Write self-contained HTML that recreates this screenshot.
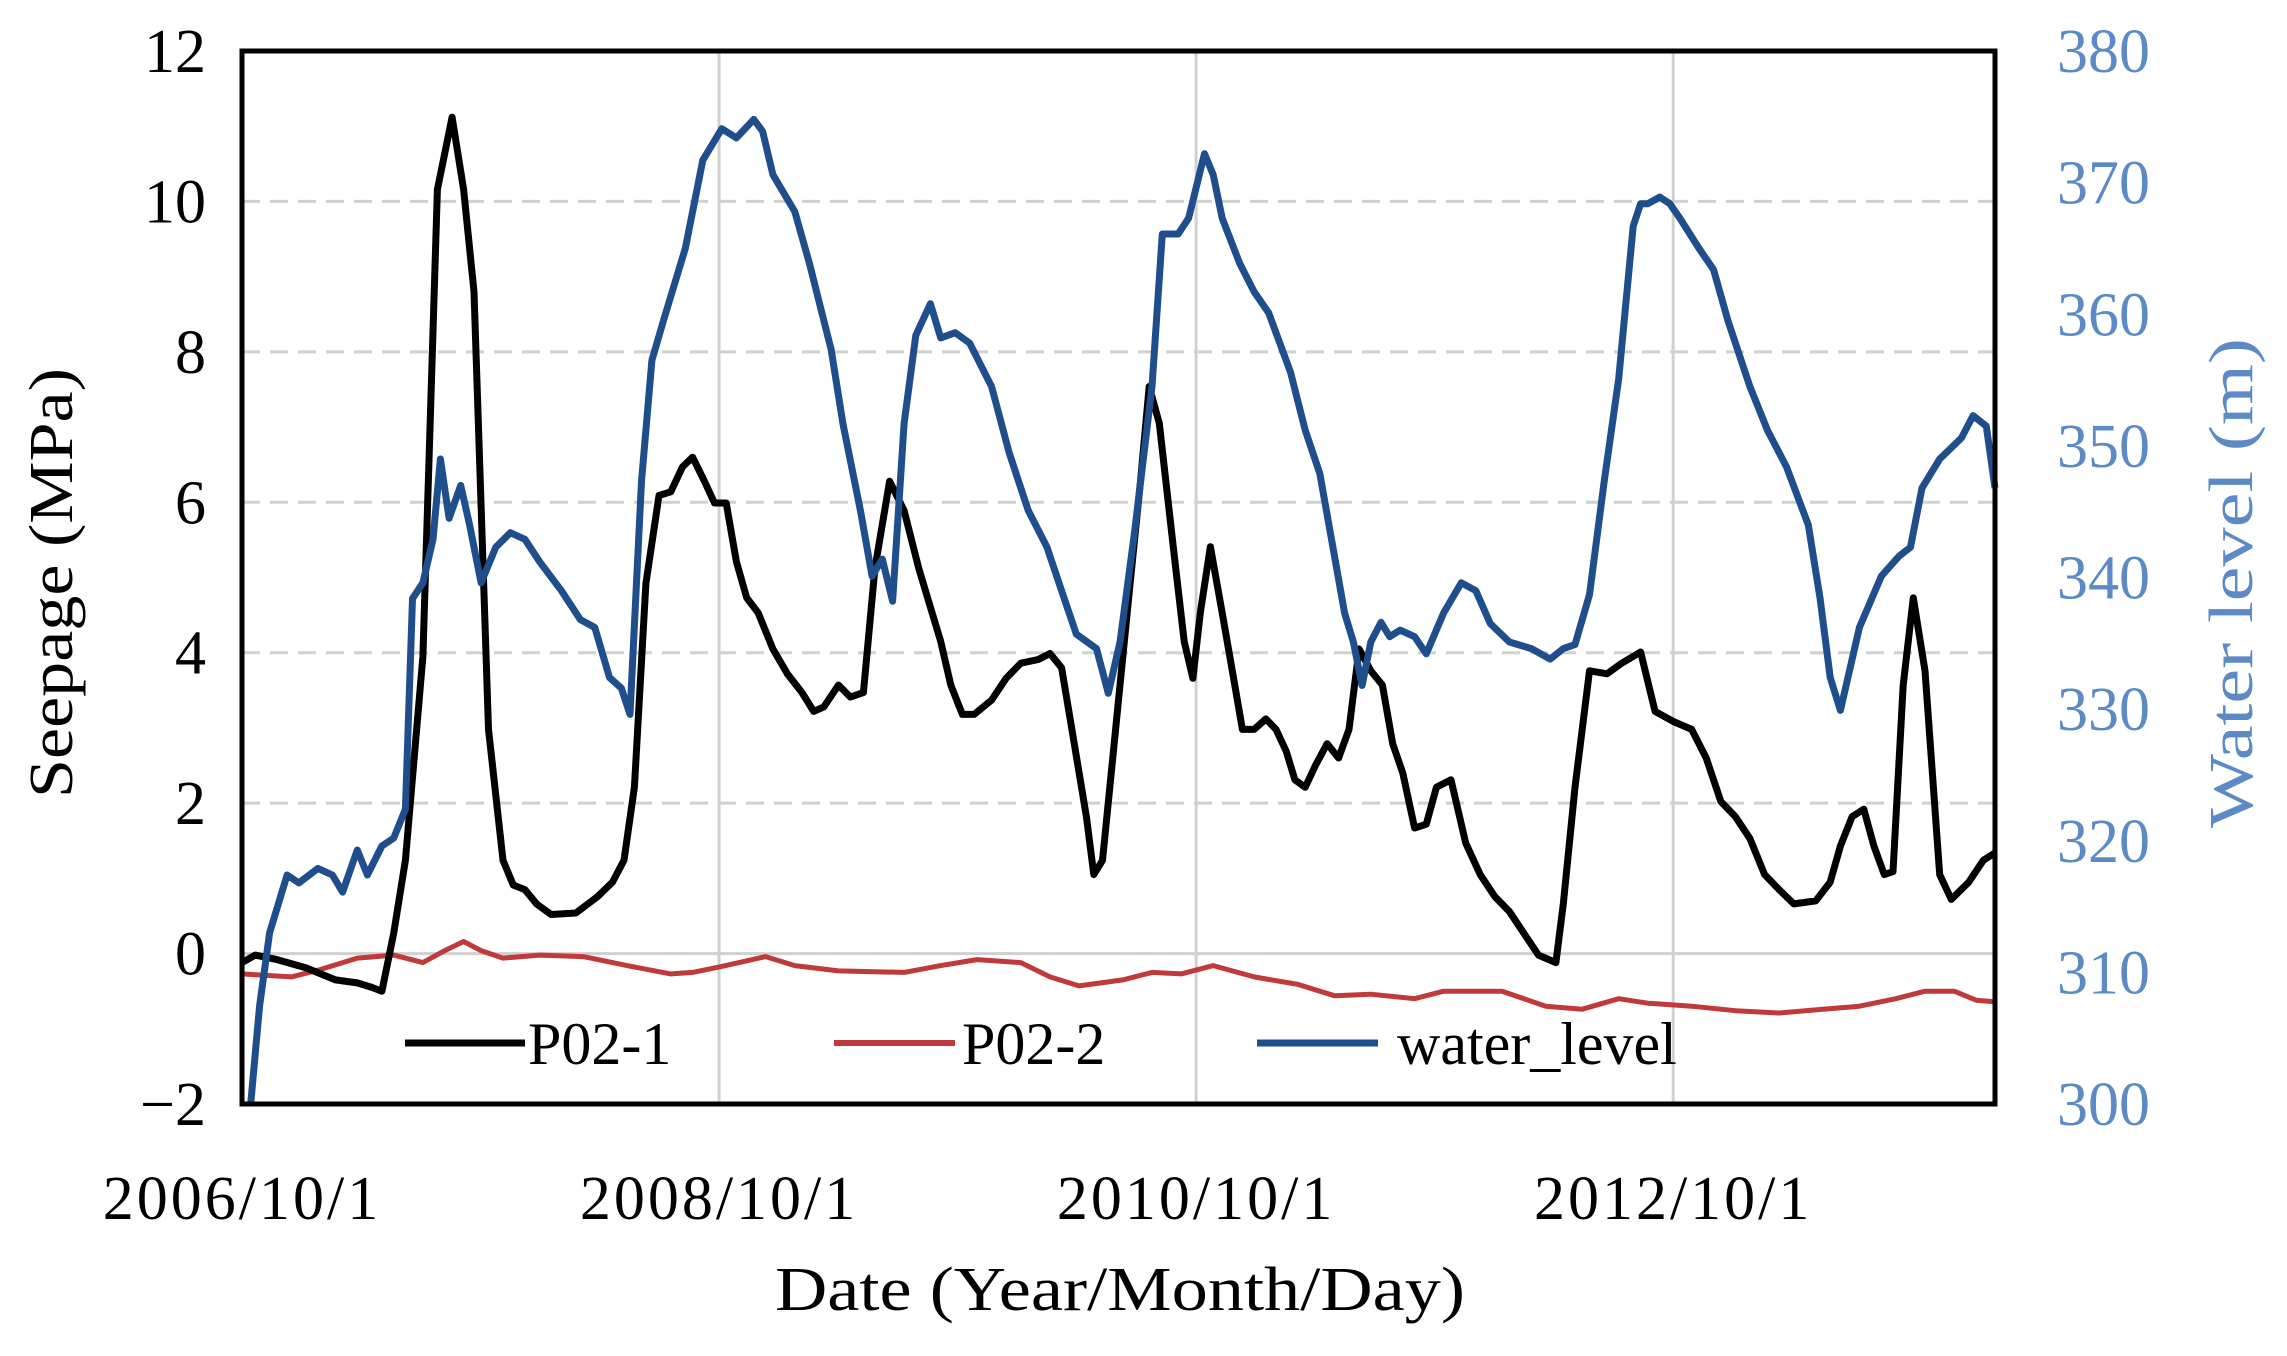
<!DOCTYPE html>
<html><head><meta charset="utf-8">
<style>
html,body{margin:0;padding:0;background:#fff;}
svg{display:block;}
text{font-family:"Liberation Serif",serif;}
</style></head>
<body>
<svg id="chart" width="2287" height="1356" viewBox="0 0 2287 1356" xmlns="http://www.w3.org/2000/svg">
<g id="grid"></g>
<g id="series"></g>
<rect x="242" y="51" width="1753" height="1053" fill="none" stroke="#000" stroke-width="5"/>
<g id="axes"></g>
<text transform="translate(72,583) rotate(-90)" text-anchor="middle" font-size="62" textLength="430" lengthAdjust="spacingAndGlyphs">Seepage (MPa)</text>
<text transform="translate(2252,583) rotate(-90)" text-anchor="middle" font-size="62" fill="#5b8ac6" textLength="490" lengthAdjust="spacingAndGlyphs">Water level (m)</text>
<text x="1120" y="1310" text-anchor="middle" font-size="62" textLength="690" lengthAdjust="spacingAndGlyphs">Date (Year/Month/Day)</text>
<g id="legend">
  <g>
    <line x1="405" y1="1043" x2="525" y2="1043" stroke="#000" stroke-width="7"/>
    <text x="528" y="1064" font-size="60">P02-1</text>
  </g>
  <g>
    <line x1="834" y1="1043" x2="955" y2="1043" stroke="#c0393b" stroke-width="6"/>
    <text x="962" y="1064" font-size="60">P02-2</text>
  </g>
  <g>
    <line x1="1257" y1="1043" x2="1378" y2="1043" stroke="#1f4e8c" stroke-width="7"/>
    <text x="1397" y="1064" font-size="60">water_level</text>
  </g>
</g>
</svg>
<script>
const xTickMonths = [0, 24, 48, 72];
const xTickLabels = ["2006/10/1", "2008/10/1", "2010/10/1", "2012/10/1"];
const yTicks = [-2, 0, 2, 4, 6, 8, 10, 12];
const y2Ticks = [300, 310, 320, 330, 340, 350, 360, 370, 380];

const p1Months = [0,0.66,1.76,3.23,4.70,5.80,6.53,7.04,7.63,8.22,9.10,9.83,10.57,11.15,11.67,12.40,13.13,13.65,14.23,14.82,15.55,16.80,17.90,18.64,19.22,19.74,20.32,20.98,21.57,22.16,22.67,23.26,23.77,24.36,24.87,25.39,25.97,26.71,27.44,28.17,28.76,29.27,30.01,30.60,31.26,31.84,32.58,33.31,34.05,35.15,35.66,36.24,36.83,37.71,38.44,39.18,40.06,40.65,41.23,41.75,42.48,42.85,43.29,43.95,44.68,45.20,45.64,46.15,46.89,47.40,47.84,48.21,48.72,49.31,49.82,50.33,50.92,51.51,52.02,52.53,52.97,53.49,54.00,54.59,55.17,55.69,56.20,56.79,57.37,57.89,58.40,58.99,59.58,60.09,60.82,61.56,62.29,63.02,63.76,64.49,65.22,66.10,66.47,67.06,67.79,68.67,69.41,70.36,71.09,72.05,72.93,73.66,74.40,75.13,75.86,76.60,77.33,78.07,79.17,79.90,80.41,81.00,81.59,82.10,82.62,83.06,83.57,84.08,84.67,85.41,85.99,86.87,87.60,88.19];
const p1Values = [-0.12,-0.02,-0.08,-0.19,-0.35,-0.39,-0.45,-0.5,0.27,1.24,3.95,10.16,11.12,10.16,8.8,2.98,1.24,0.91,0.85,0.66,0.52,0.54,0.76,0.95,1.24,2.21,4.92,6.09,6.14,6.47,6.6,6.28,5.99,5.99,5.21,4.73,4.53,4.05,3.72,3.47,3.22,3.28,3.57,3.41,3.47,5.12,6.28,5.89,5.12,4.15,3.57,3.18,3.18,3.37,3.66,3.86,3.91,3.99,3.8,2.98,1.82,1.05,1.24,2.98,4.92,6.28,7.54,7.05,5.31,4.15,3.66,4.53,5.41,4.53,3.76,2.98,2.98,3.12,2.98,2.69,2.31,2.21,2.5,2.79,2.6,2.98,4.05,3.76,3.57,2.79,2.4,1.67,1.72,2.21,2.31,1.47,1.05,0.76,0.56,0.27,-0.02,-0.12,0.66,2.21,3.76,3.72,3.86,4.01,3.22,3.08,2.98,2.6,2.02,1.82,1.53,1.05,0.85,0.66,0.7,0.95,1.43,1.82,1.92,1.43,1.05,1.09,3.57,4.73,3.76,1.05,0.72,0.95,1.24,1.34];

const p2Months = [0,2.49,3.96,5.80,7.63,9.10,10.2,11.15,12.03,13.13,14.97,17.17,19.37,21.57,22.67,24.14,26.34,27.81,30.01,33.31,35.15,36.98,39.18,40.65,42.11,44.31,45.78,47.25,48.86,50.92,53.12,54.95,56.79,58.99,60.45,63.39,65.59,67.43,69.26,70.73,72.93,75.13,77.33,79.53,81.37,83.20,84.67,86.14,87.24,88.19];
const p2Values = [-0.27,-0.31,-0.21,-0.06,-0.02,-0.12,0.04,0.16,0.04,-0.06,-0.02,-0.04,-0.16,-0.27,-0.25,-0.17,-0.04,-0.16,-0.23,-0.25,-0.16,-0.08,-0.12,-0.31,-0.43,-0.35,-0.25,-0.27,-0.16,-0.31,-0.41,-0.56,-0.54,-0.6,-0.5,-0.5,-0.70,-0.74,-0.60,-0.66,-0.70,-0.76,-0.79,-0.74,-0.70,-0.60,-0.50,-0.50,-0.62,-0.64];

const wlMonths = [0.44,0.88,1.39,2.27,2.86,3.82,4.55,5.06,5.80,6.31,7.04,7.63,8.22,8.58,9.10,9.61,9.98,10.42,11.0,11.45,12.03,12.77,13.50,14.23,14.97,16.07,17.02,17.75,18.49,19.08,19.52,20.10,20.62,21.20,22.30,23.18,24.14,24.87,25.75,26.19,26.71,27.81,28.54,29.64,30.23,31.11,31.70,32.21,32.73,33.31,33.90,34.63,35.15,35.88,36.61,37.71,38.59,39.55,40.50,41.23,41.97,42.99,43.58,44.17,44.90,45.78,46.30,47.10,47.62,48.42,48.86,49.31,50.18,50.92,51.65,52.75,53.49,54.22,54.81,55.47,55.91,56.35,56.79,57.30,57.74,58.26,58.99,59.58,60.45,61.34,62.07,62.80,63.76,64.86,65.81,66.47,67.06,67.79,68.53,69.26,69.99,70.36,70.73,71.32,71.83,72.34,73.30,74.03,74.76,75.86,76.74,77.70,78.80,79.39,79.90,80.41,81.37,82.47,83.35,83.94,84.52,85.41,86.50,87.09,87.75,88.19];
const wlValues = [300.0,307.4,313.0,317.4,316.8,317.9,317.4,316.1,319.3,317.4,319.6,320.2,322.4,338.4,339.6,342.9,349.0,344.5,347.0,344.0,339.6,342.3,343.4,342.9,341.2,339.0,336.8,336.2,332.4,331.6,329.6,347.3,356.5,359.5,365.0,371.7,374.1,373.4,374.8,373.9,370.6,367.8,363.9,357.3,351.7,345.1,340.1,341.4,338.2,351.7,358.4,360.8,358.2,358.6,357.8,354.5,349.5,345.1,342.3,339.0,335.7,334.6,331.2,335.1,343.4,354.5,366.1,366.1,367.3,372.2,370.6,367.3,363.9,361.7,360.1,355.6,351.2,347.9,342.9,337.3,335.1,331.8,335.1,336.6,335.5,336.0,335.5,334.2,337.3,339.6,339.0,336.5,335.1,334.6,333.8,334.6,334.9,338.7,347.3,355.1,366.7,368.4,368.4,368.9,368.4,367.3,365.0,363.4,359.5,354.5,351.2,348.4,344.0,338.4,332.4,329.9,336.2,340.1,341.6,342.3,346.8,349.0,350.6,352.3,351.5,346.8];

const L=242,R=1995,T=51,B=1104, XMAX=88.19;
const NS="http://www.w3.org/2000/svg";
function xs(m){return L+(R-L)*m/XMAX;}
function ys(v){return B-(B-T)*(v+2)/14;}
function y2s(v){return B-(B-T)*(v-300)/80;}
function mk(tag,attrs,parent){const e=document.createElementNS(NS,tag);for(const k in attrs)e.setAttribute(k,attrs[k]);parent.appendChild(e);return e;}

const grid=document.getElementById('grid'), axes=document.getElementById('axes'), ser=document.getElementById('series');
yTicks.forEach(v=>{
  if(v>-2&&v<12){
    const g=mk('line',{x1:L,x2:R,y1:ys(v),y2:ys(v),stroke:'#d0d0d0','stroke-width':3,'stroke-dasharray':(v===0?'':'18 10')},grid);
    
    
  }
  const t=mk('text',{x:206,y:ys(v)+21,'text-anchor':'end','font-size':62},axes);
  t.textContent=(v<0?'\u22122':String(v));
  
  
});
y2Ticks.forEach(v=>{
  const t=mk('text',{x:2057,y:y2s(v)+21,'font-size':62,fill:'#5b8ac6'},axes);
  t.textContent=String(v);
  
  
});
xTickMonths.forEach((m,i)=>{
  if(m>0){
    const g=mk('line',{x1:xs(m),x2:xs(m),y1:T,y2:B,stroke:'#d0d0d0','stroke-width':3},grid);
    
    
  }
  const t=mk('text',{x:xs(m),y:1219,'text-anchor':'middle','font-size':62,'letter-spacing':3},axes);
  t.textContent=xTickLabels[i];
  
  
});
function path(ms,vs,sc,color,w,name){
  const d=ms.map((m,i)=>(i?'L':'M')+xs(m).toFixed(1)+','+sc(vs[i]).toFixed(1)).join('');
  const p=mk('path',{d:d,fill:'none',stroke:color,'stroke-width':w,'stroke-linejoin':'round'},ser);
  
  
}
path(p2Months,p2Values,ys,'#c0393b',5,'line-p02-2');
path(p1Months,p1Values,ys,'#000',7,'line-p02-1');
path(wlMonths,wlValues,y2s,'#1f4e8c',7,'line-water-level');
</script>
</body></html>
